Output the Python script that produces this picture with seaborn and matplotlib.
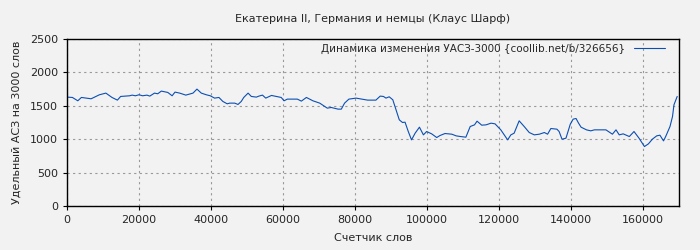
import matplotlib
matplotlib.use("Agg")
import matplotlib.pyplot as plt
import seaborn as sns
import pandas as pd

words = [0, 1500, 3000, 4000, 6700, 9000, 10800, 12500, 14000, 14900, 17400, 18100, 19000,
         20000, 21000, 22200, 23000, 24300, 25200, 26200, 28000, 29200, 30000, 31300, 33000,
         35000, 36100, 37300, 38700, 39800, 41000, 42200, 43300, 44500, 45200, 46600, 47500,
         48400, 49100, 50300, 51200, 52600, 53300, 54300, 55200, 56800, 58200, 59500, 60300,
         61200, 64000, 65100, 66500, 68300, 70200, 72300, 73400, 75300, 76200, 77100, 78300,
         80300, 83500, 85800, 87000, 87900, 88600, 89500, 90500, 91100, 92300, 93200, 93900,
         94800, 95700, 96700, 97900, 99000, 99900, 101300, 102700, 103600, 105000, 106900,
         108100, 109300, 110800, 112000, 113200, 113900, 115200, 116400, 117800, 118900,
         120500, 122400, 123300, 124200, 125600, 127000, 128400, 129800, 131200, 132600,
         133500, 134400, 136100, 136700, 137500, 138600, 139800, 140600, 141400, 142100,
         142800, 144300, 145500, 146500, 147800, 149700, 151500, 152500, 153400, 154500,
         156200, 157500, 158900, 160400, 161500, 162600, 163800, 164700, 165700, 166300,
         167500, 168200, 168600, 169500]
uasz = [1630, 1625, 1575, 1625, 1605, 1665, 1690, 1625, 1585, 1640, 1650, 1660, 1650,
        1665, 1650, 1660, 1645, 1690, 1680, 1720, 1700, 1650, 1705, 1690, 1660,
        1690, 1750, 1690, 1665, 1650, 1615, 1625, 1565, 1530, 1540, 1540, 1520,
        1565, 1625, 1690, 1640, 1630, 1645, 1660, 1615, 1655, 1640, 1625, 1575,
        1600, 1600, 1570, 1625, 1575, 1540, 1465, 1475, 1450, 1450, 1540, 1600,
        1615, 1585, 1585, 1645, 1640, 1615, 1635, 1590, 1490, 1290, 1250, 1255,
        1115, 990, 1090, 1180, 1065, 1115, 1080, 1025, 1055, 1085, 1075,
        1050, 1040, 1030, 1190, 1215, 1270, 1210, 1215, 1240, 1230,
        1140, 990, 1065, 1090, 1275, 1190, 1100, 1065, 1075, 1100,
        1075, 1160, 1150, 1115, 1000, 1015, 1225, 1300, 1310, 1240,
        1180, 1140, 1125, 1140, 1140, 1140, 1075, 1140, 1065, 1080,
        1040, 1115, 1015, 890, 930, 1000, 1050, 1060, 975, 1040,
        1190, 1340, 1515, 1640]

title = "Екатерина II, Германия и немцы (Клаус Шарф)"
xlabel = "Счетчик слов"
ylabel = "Удельный АСЗ на 3000 слов"
legend_label = "Динамика изменения УАСЗ-3000 {coollib.net/b/326656}"

sns.set_style("ticks")
plt.rcParams['font.family'] = ['DejaVu Sans']

df = pd.DataFrame({"x": words, "y": uasz})

fig = plt.figure(figsize=(7, 2.5), dpi=100, facecolor="#f2f2f2")
ax = fig.add_axes([67/700, 1-206/250, (679-67)/700, (206-39)/250])
ax.set_facecolor("#f2f2f2")

sns.lineplot(data=df, x="x", y="y", ax=ax, color="#0b4fb5", linewidth=0.8,
             label=legend_label)

ax.set_xlim(0, 170000)
ax.set_ylim(0, 2500)
ax.set_xticks(range(0, 170000, 20000))
ax.set_yticks(range(0, 2501, 500))
ax.grid(True, color="#999999", linestyle=(0, (2, 3)), linewidth=0.8)
ax.tick_params(labelsize=8, length=3, width=0.8, color="black")
for s in ax.spines.values():
    s.set_visible(True)
    s.set_color("black")
    s.set_linewidth(1)

ax.set_title(title, fontsize=8, pad=12)
ax.set_xlabel(xlabel, fontsize=8, labelpad=6)
ax.set_ylabel(ylabel, fontsize=8, labelpad=6)

leg = ax.legend(loc="upper right", bbox_to_anchor=(0.977, 0.97), frameon=False,
                fontsize=7.5, markerfirst=False, handlelength=3.0, handletextpad=0.8,
                borderaxespad=0.0, borderpad=0.0)

fig.savefig("out.png", dpi=100, facecolor=fig.get_facecolor())
